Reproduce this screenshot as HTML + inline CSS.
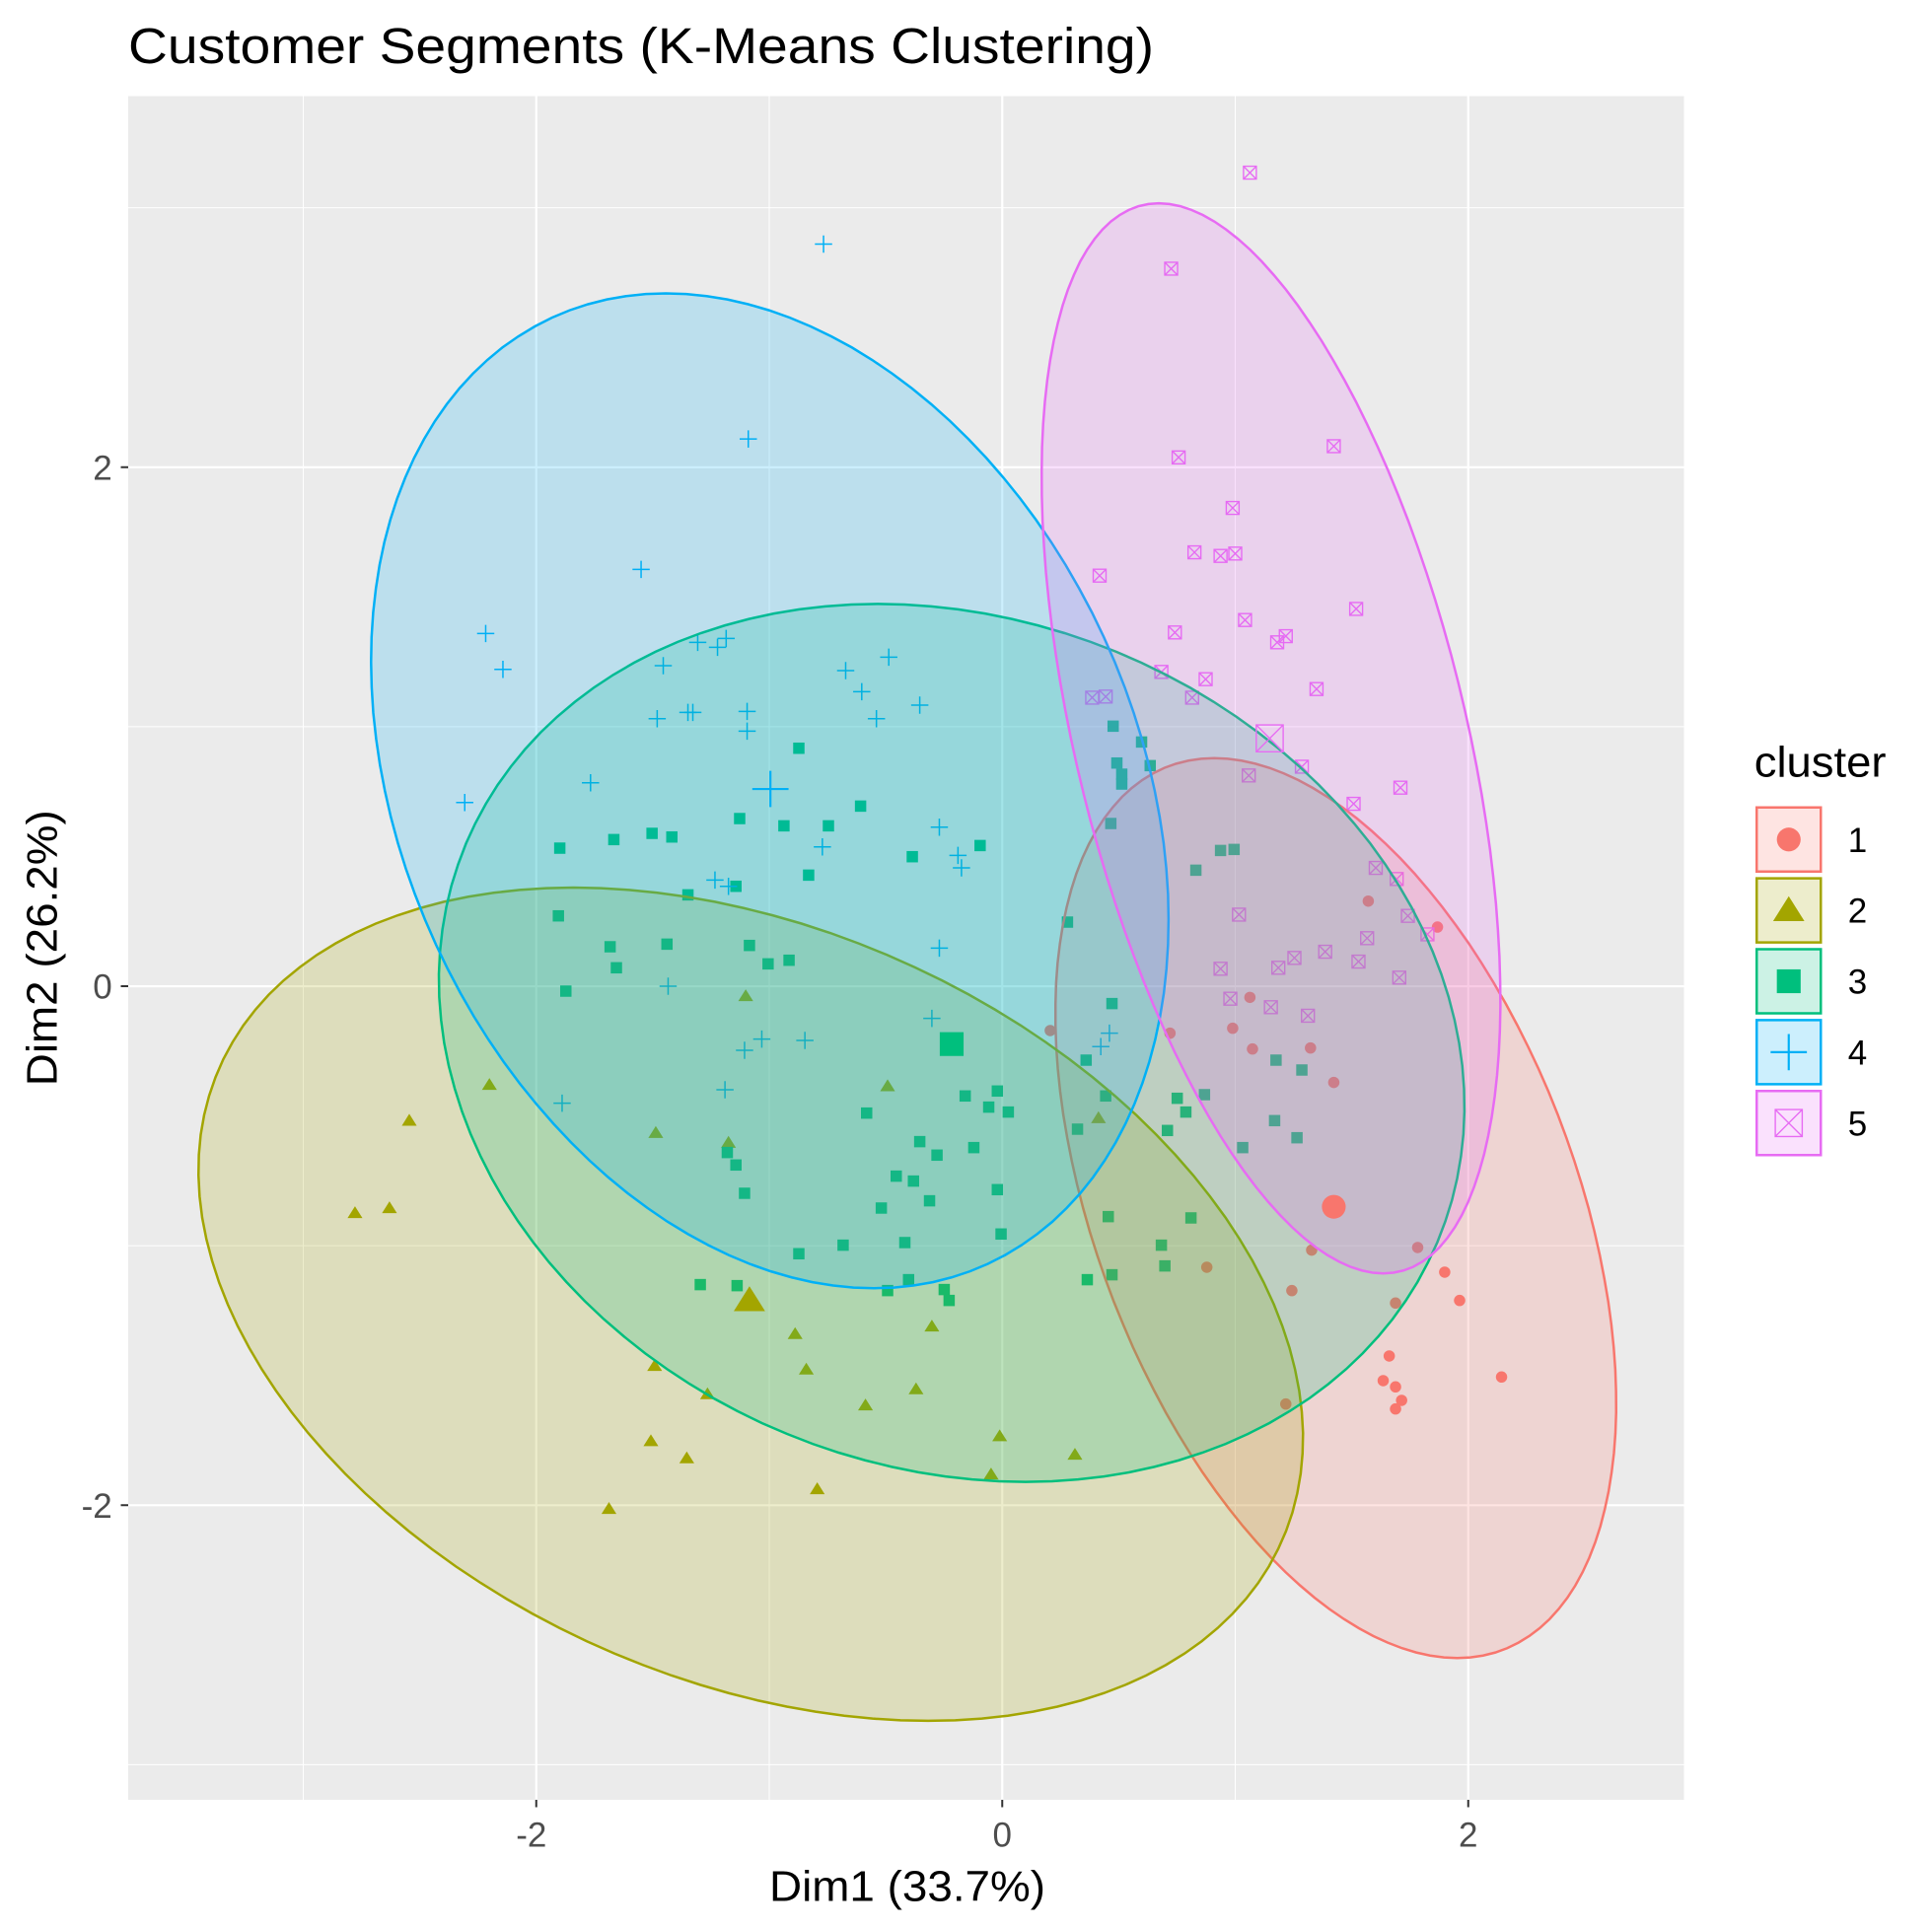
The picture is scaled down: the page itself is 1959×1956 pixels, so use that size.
<!DOCTYPE html>
<html><head><meta charset="utf-8"><style>
html,body{margin:0;padding:0;background:#fff;}
svg{display:block;}
text{font-family:"Liberation Sans",Arial,sans-serif;}
</style></head><body>
<svg id="chart" width="1959" height="1956" viewBox="0 0 1567.2 1564.8" preserveAspectRatio="none" xmlns="http://www.w3.org/2000/svg">
<rect x="0" y="0" width="1567.2" height="1564.8" fill="#fff"/>
<text x="104" y="51" font-size="41" textLength="832" lengthAdjust="spacingAndGlyphs" fill="#000">Customer Segments (K-Means Clustering)</text>
<rect x="104" y="78" width="1262" height="1382" fill="#EBEBEB"/>
<g id="grid"></g>
<g id="points"></g>
<g id="ellipses"></g>
<g id="centroids"></g>
<g id="axes"></g>
<text x="736" y="1542" font-size="35" textLength="224" lengthAdjust="spacingAndGlyphs" text-anchor="middle" fill="#000">Dim1 (33.7%)</text>
<text transform="translate(46,769) rotate(-90)" font-size="35" textLength="224" lengthAdjust="spacingAndGlyphs" text-anchor="middle" fill="#000">Dim2 (26.2%)</text>
<g id="legend"></g>
</svg>
<script>
const NS="http://www.w3.org/2000/svg";
const clusterIds=["1","2","3","4","5"];
const colors=["#F8766D","#A3A500","#00BF7D","#00B0F6","#E76BF3"];
const xTicks=[-2,0,2];
const yTicks=[-2,0,2];
const xMinor=[-3,-1,1];
const yMinor=[-3,-1,1,3];
const c1x=[1.571,1.063,0.989,1.074,1.323,1.423,0.720,0.206,1.328,1.243,0.878,1.783,1.899,1.963,1.688,1.868,1.661,1.635,1.688,1.714,1.688,2.143,1.217];
const c1y=[0.328,-0.043,-0.162,-0.242,-0.238,-0.371,-0.181,-0.171,-1.017,-1.173,-1.083,-1.007,-1.102,-1.211,-1.221,0.228,-1.425,-1.520,-1.544,-1.596,-1.629,-1.506,-1.610];
const c2x=[-2.778,-2.630,-2.545,-2.201,-1.688,-1.508,-1.492,-1.487,-1.354,-1.265,-1.175,-1.101,-0.889,-0.841,-0.794,-0.587,-0.492,-0.370,-0.302,-0.048,-0.011,0.312,0.413];
const c2y=[-0.874,-0.855,-0.518,-0.380,-2.014,-1.753,-1.463,-0.565,-1.819,-1.572,-0.603,-0.038,-1.340,-1.477,-1.938,-1.615,-0.385,-1.553,-1.311,-1.881,-1.734,-1.805,-0.508];
const c3x=[-1.899,-1.905,-1.873,-1.667,-1.683,-1.656,-1.503,-1.418,-1.439,-1.349,-1.296,-1.180,-1.143,-1.106,-1.143,-1.127,-1.138,-1.085,-1.005,-0.937,-0.915,-0.873,-0.873,-0.831,-0.746,-0.683,-0.608,-0.582,-0.519,-0.492,-0.455,-0.418,-0.402,-0.386,-0.381,-0.354,-0.312,-0.280,-0.249,-0.228,-0.159,-0.122,-0.095,-0.058,-0.021,-0.021,-0.005,0.026,0.280,0.323,0.360,0.365,0.444,0.455,0.466,0.471,0.476,0.492,0.513,0.513,0.598,0.635,0.683,0.698,0.709,0.751,0.788,0.810,0.831,0.868,0.937,0.995,1.032,1.175,1.169,1.265,1.286,0.471];
const c3y=[0.532,0.271,-0.019,0.565,0.152,0.071,0.589,0.575,0.162,0.352,-1.150,-0.641,-0.689,-0.798,0.385,0.646,-1.154,0.157,0.086,0.618,0.100,0.917,-1.031,0.428,0.618,-0.998,0.694,-0.489,-0.855,-1.173,-0.732,-0.988,-1.131,0.499,-0.751,-0.599,-0.827,-0.651,-1.169,-1.211,-0.423,-0.622,0.542,-0.466,-0.404,-0.784,-0.955,-0.485,0.247,-0.551,-0.285,-1.131,-0.423,-0.888,0.627,-1.112,1.002,0.860,0.779,0.817,0.941,0.850,-0.998,-1.078,-0.556,-0.432,-0.485,-0.893,0.447,-0.418,0.523,0.527,-0.622,-0.285,-0.518,-0.584,-0.323,-0.067];
const c4x=[-0.767,-1.090,-1.550,-2.217,-2.143,-1.307,-1.185,-1.222,-1.455,-0.672,-0.487,-0.603,-0.540,-0.354,-1.481,-1.349,-1.328,-1.095,-1.095,-1.767,-2.307,-0.270,-0.772,-0.190,-0.175,-1.233,-1.175,-0.270,-1.434,-0.302,-1.106,-1.032,-0.847,-1.190,-1.889,0.460,0.423];
const c4y=[2.860,2.109,1.606,1.359,1.221,1.325,1.340,1.306,1.235,1.216,1.268,1.135,1.031,1.083,1.031,1.055,1.055,1.059,0.983,0.784,0.708,0.613,0.537,0.504,0.456,0.409,0.385,0.147,0.000,-0.124,-0.247,-0.204,-0.209,-0.399,-0.451,-0.181,-0.233];
const c5x=[1.063,0.725,0.757,1.423,0.989,0.825,0.937,1.000,0.418,1.519,0.741,1.042,1.180,1.217,1.349,0.683,0.873,0.815,0.386,0.444,1.286,1.058,1.709,1.508,1.603,1.693,1.741,1.825,1.566,1.016,1.386,1.254,1.185,0.937,1.529,1.704,0.979,1.153,1.312];
const c5y=[3.135,2.765,2.038,2.081,1.843,1.672,1.658,1.667,1.582,1.454,1.363,1.411,1.325,1.349,1.145,1.211,1.183,1.112,1.112,1.116,0.846,0.812,0.765,0.703,0.456,0.413,0.271,0.200,0.185,0.276,0.133,0.109,0.071,0.067,0.095,0.033,-0.048,-0.081,-0.114];
const centerX=[1.423,-1.085,-0.217,-0.995,1.148];
const centerY=[-0.850,-1.211,-0.223,0.760,0.955];
// ellipse extents: xmin,xmax,ymin,ymax, x at top
const ellXmin=[0.228,-3.450,-2.418,-2.709,0.169];
const ellXmax=[2.635,1.291,1.984,0.714,2.138];
const ellYmin=[-2.589,-2.831,-1.910,-1.164,-1.107];
const ellYmax=[0.879,0.380,1.473,2.670,3.017];
const ellTopX=[0.910,-1.841,-0.534,-1.444,0.672];

const PX0=813, PXU=189, PY0=800, PYU=210.5;
const sx=v=>PX0+v*PXU, sy=v=>PY0-v*PYU;
function mk(tag,attrs,parent){const e=document.createElementNS(NS,tag);for(const k in attrs)e.setAttribute(k,attrs[k]);parent.appendChild(e);return e;}

const grid=document.getElementById('grid');
xMinor.forEach(v=>{const l=mk('line',{x1:sx(v),x2:sx(v),y1:78,y2:1460,stroke:'#fff','stroke-width':0.8},grid);

});
yMinor.forEach(v=>{const l=mk('line',{x1:104,x2:1366,y1:sy(v),y2:sy(v),stroke:'#fff','stroke-width':0.8},grid);

});
xTicks.forEach(v=>{const l=mk('line',{x1:sx(v),x2:sx(v),y1:78,y2:1460,stroke:'#fff','stroke-width':1.7},grid);

});
yTicks.forEach(v=>{const l=mk('line',{x1:104,x2:1366,y1:sy(v),y2:sy(v),stroke:'#fff','stroke-width':1.7},grid);

});

const axes=document.getElementById('axes');
xTicks.forEach(v=>{const t=mk('line',{x1:sx(v),x2:sx(v),y1:1460,y2:1466,stroke:'#333','stroke-width':1.6},axes);


const tx=mk('text',{x:sx(v)-(v<0?4:0),y:1498,'font-size':28,'text-anchor':'middle',fill:'#4D4D4D'},axes);tx.textContent=String(v);

});
yTicks.forEach(v=>{const t=mk('line',{x1:98,x2:104,y1:sy(v),y2:sy(v),stroke:'#333','stroke-width':1.6},axes);


const tx=mk('text',{x:91,y:sy(v)+10,'font-size':28,'text-anchor':'end',fill:'#4D4D4D'},axes);tx.textContent=String(v);

});

function shape(k,x,y,s,parent){
  const c=colors[k];let e;
  if(k===0){e=mk('circle',{cx:x,cy:y,r:4.6*s,fill:c},parent);}
  else if(k===1){const h=5.5*s;e=mk('polygon',{points:`${x},${y-h} ${x-h*1.1},${y+h*0.75} ${x+h*1.1},${y+h*0.75}`,fill:c},parent);}
  else if(k===2){const h=4.6*s;e=mk('rect',{x:x-h,y:y-h,width:2*h,height:2*h,fill:c},parent);}
  else if(k===3){const h=7*s;e=mk('path',{d:`M${x-h},${y}H${x+h}M${x},${y-h}V${y+h}`,stroke:c,'stroke-width':1.2*Math.sqrt(s),fill:'none'},parent);}
  else {const h=5.2*s;e=mk('path',{d:`M${x-h},${y-h}h${2*h}v${2*h}h${-2*h}z M${x-h},${y-h}L${x+h},${y+h}M${x+h},${y-h}L${x-h},${y+h}`,stroke:c,'stroke-width':1.1,fill:'none'},parent);}
  return e;
}
const pts=document.getElementById('points');
const allX=[c1x,c2x,c3x,c4x,c5x], allY=[c1y,c2y,c3y,c4y,c5y];
for(let k=0;k<5;k++){
  for(let i=0;i<allX[k].length;i++){
    const e=shape(k,sx(allX[k][i]),sy(allY[k][i]),1,pts);
    
    
  }
}
const ell=document.getElementById('ellipses');
for(let k=0;k<5;k++){
  const L=sx(ellXmin[k]),R=sx(ellXmax[k]),T=sy(ellYmax[k]),B=sy(ellYmin[k]);
  const cx=(L+R)/2,cy=(T+B)/2,H=(R-L)/2,V=(B-T)/2,dx=sx(ellTopX[k])-cx;
  const w=Math.sqrt(Math.max(H*H-dx*dx,1));
  let d='';
  for(let i=0;i<=120;i++){const t=i/120*2*Math.PI;
    const x=cx+dx*Math.sin(t)+w*Math.cos(t), y=cy-V*Math.sin(t);
    d+=(i?'L':'M')+x.toFixed(1)+','+y.toFixed(1);}
  const p=mk('path',{d:d+'Z',fill:colors[k],'fill-opacity':0.2,stroke:colors[k],'stroke-width':2},ell);
  
  
}
const cen=document.getElementById('centroids');
for(let k=0;k<5;k++){
  const e=shape(k,sx(centerX[k]),sy(centerY[k]),2.1,cen);
  
  
}
const lg=document.getElementById('legend');
const lt=mk('text',{x:1423,y:630,'font-size':35,textLength:107,lengthAdjust:'spacingAndGlyphs',fill:'#000'},lg);lt.textContent='cluster';


for(let k=0;k<5;k++){
  const yc=681+k*57.5;
  const g=mk('g',{},lg);
  
  
  mk('rect',{x:1423,y:yc-27,width:56,height:54,fill:'#fff'},g);
  mk('rect',{x:1425,y:yc-26,width:52,height:52,fill:colors[k],'fill-opacity':0.2,stroke:colors[k],'stroke-width':2},g);
  shape(k,1451,yc,2.1,g);
  const t=mk('text',{x:1499,y:yc+10,'font-size':28,fill:'#000'},g);t.textContent=clusterIds[k];
}
</script>
</body></html>
